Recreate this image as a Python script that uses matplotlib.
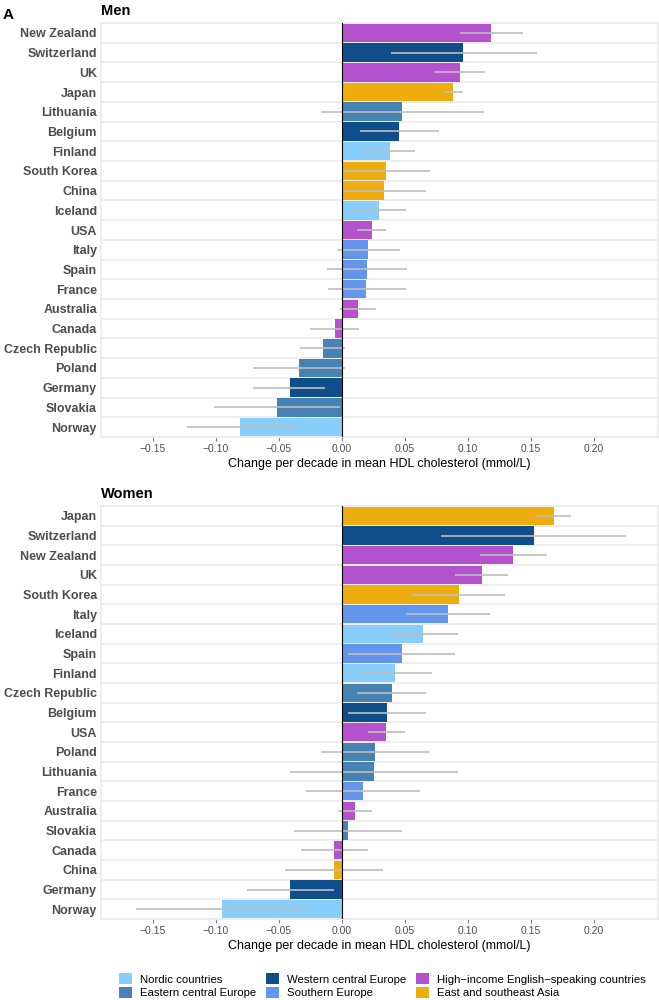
import numpy as np
import matplotlib
matplotlib.use("Agg")
import matplotlib.pyplot as plt
from matplotlib.patches import Patch
from matplotlib.ticker import FixedLocator

plt.rcParams["font.family"] = ["Liberation Sans", "DejaVu Sans"]

# ============================================================
# Data: change per decade in mean HDL cholesterol (mmol/L)
# Lists are ordered top row -> bottom row as in the figure.
# ============================================================
men_countries = ["New Zealand", "Switzerland", "UK", "Japan", "Lithuania", "Belgium",
                 "Finland", "South Korea", "China", "Iceland", "USA", "Italy", "Spain",
                 "France", "Australia", "Canada", "Czech Republic", "Poland", "Germany",
                 "Slovakia", "Norway"]
men_change = [0.1187, 0.0967, 0.0937, 0.0887, 0.048, 0.0457, 0.0383, 0.0353, 0.0337,
              0.0293, 0.0237, 0.021, 0.0203, 0.0197, 0.013, -0.0053, -0.0147, -0.0337,
              -0.0413, -0.0517, -0.0803]
men_lo = [0.094, 0.039, 0.073, 0.081, -0.016, 0.0147, 0.018, 0.0007, 0.0013, 0.008,
          0.012, -0.004, -0.012, -0.011, -0.0013, -0.025, -0.0327, -0.070, -0.070,
          -0.1017, -0.1227]
men_hi = [0.144, 0.155, 0.114, 0.096, 0.113, 0.077, 0.058, 0.070, 0.067, 0.051, 0.035,
          0.046, 0.052, 0.051, 0.027, 0.014, 0.0027, 0.0027, -0.0133, -0.0017, -0.038]

women_countries = ["Japan", "Switzerland", "New Zealand", "UK", "South Korea", "Italy",
                   "Iceland", "Spain", "Finland", "Czech Republic", "Belgium", "USA",
                   "Poland", "Lithuania", "France", "Australia", "Slovakia", "Canada",
                   "China", "Germany", "Norway"]
women_change = [0.1687, 0.1527, 0.1363, 0.111, 0.0933, 0.0843, 0.0647, 0.0477, 0.0427,
                0.0397, 0.036, 0.0353, 0.0267, 0.0253, 0.017, 0.0107, 0.005, -0.006,
                -0.006, -0.0407, -0.095]
women_lo = [0.154, 0.079, 0.110, 0.090, 0.056, 0.0507, 0.038, 0.0047, 0.0137, 0.012,
            0.0047, 0.0207, -0.0167, -0.041, -0.028, -0.003, -0.038, -0.032, -0.045,
            -0.075, -0.163]
women_hi = [0.182, 0.226, 0.163, 0.132, 0.130, 0.118, 0.092, 0.090, 0.072, 0.067, 0.067,
            0.050, 0.070, 0.092, 0.062, 0.0243, 0.048, 0.0207, 0.033, -0.006, -0.0267]

regions = ["Nordic countries", "Eastern central Europe", "Western central Europe",
           "Southern Europe", "High\u2212income English\u2212speaking countries",
           "East and southeast Asia"]
region_colors = ["#87CEFA", "#4682B4", "#104E8B", "#6495ED", "#B452CD", "#EEAD0E"]

country_region = {
    "Finland": 0, "Iceland": 0, "Norway": 0,
    "Lithuania": 1, "Czech Republic": 1, "Poland": 1, "Slovakia": 1,
    "Switzerland": 2, "Belgium": 2, "Germany": 2,
    "Italy": 3, "Spain": 3, "France": 3,
    "New Zealand": 4, "UK": 4, "USA": 4, "Australia": 4, "Canada": 4,
    "Japan": 5, "South Korea": 5, "China": 5,
}

XLIM = (-0.191, 0.251)
GRID = "#EBEBEB"


def draw_panel(ax, countries, change, lo, hi, title):
    n = len(countries)
    ypos = np.arange(n)
    colors = [region_colors[country_region[c]] for c in countries]
    ax.barh(ypos, change, height=0.94, color=colors, zorder=2)
    ax.hlines(ypos, lo, hi, color="#BEBEBE", linewidth=1.2, zorder=3)
    ax.axvline(0, color="black", linewidth=0.8, zorder=4)

    ax.set_yticks(ypos)
    ax.set_yticklabels(countries, fontsize=9, fontweight="bold", color="#4D4D4D")
    ax.yaxis.set_minor_locator(FixedLocator(np.arange(-0.5, n, 1)))
    ax.grid(which="minor", axis="y", color=GRID, linewidth=1.2, zorder=0)
    ax.tick_params(axis="y", which="both", length=0, pad=3)
    ax.set_ylim(n - 0.5, -0.5)

    ax.set_xlim(*XLIM)
    ax.set_xticks([-0.15, -0.10, -0.05, 0.0, 0.05, 0.10, 0.15, 0.20])
    ax.set_xticklabels(["\u22120.15", "\u22120.10", "\u22120.05", "0.00", "0.05",
                        "0.10", "0.15", "0.20"])
    ax.tick_params(axis="x", length=3, color="#7F7F7F", labelsize=7.5,
                   labelcolor="#4D4D4D", pad=2)
    ax.set_xlabel("Change per decade in mean HDL cholesterol (mmol/L)", fontsize=9,
                  labelpad=3)
    for s in ax.spines.values():
        s.set_color(GRID)
        s.set_linewidth(1.2)
    ax.set_title(title, loc="left", fontsize=10.5, fontweight="bold", pad=6)


fig = plt.figure(figsize=(6.59, 10), dpi=100)
ax_men = fig.add_axes([0.1533, 0.563, 0.845, 0.414])
ax_women = fig.add_axes([0.1533, 0.081, 0.845, 0.413])

draw_panel(ax_men, men_countries, men_change, men_lo, men_hi, "Men")
draw_panel(ax_women, women_countries, women_change, women_lo, women_hi, "Women")

fig.text(0.004, 0.992, "A", fontsize=11, fontweight="bold", va="top")

handles = [Patch(facecolor=c, edgecolor="none") for c in region_colors]
fig.legend(handles, regions, loc="lower left", bbox_to_anchor=(0.172, -0.004),
           ncol=3, frameon=False, fontsize=8.2, handlelength=1.1, handleheight=1.1,
           handletextpad=0.7, columnspacing=0.9, labelspacing=0.2, borderaxespad=0.1)

fig.savefig("out.png", dpi=100)
